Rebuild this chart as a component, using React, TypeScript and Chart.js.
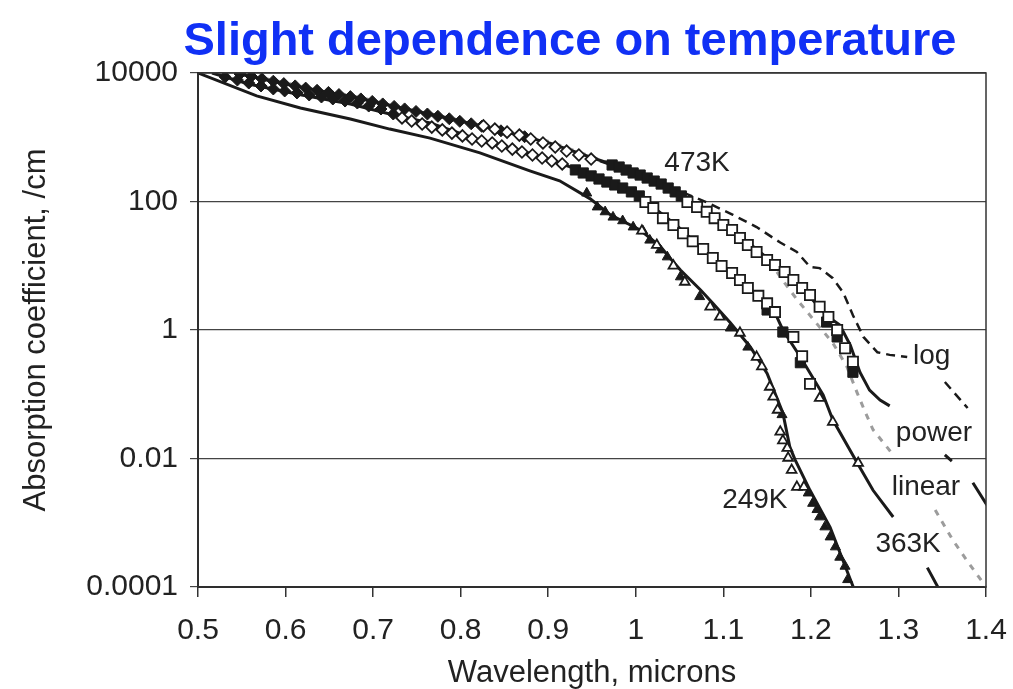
import React, { useEffect, useRef } from 'react';
import { Chart, registerables } from 'chart.js';

Chart.register(...registerables);

// ---------- text ----------
const chartTitle = 'Slight dependence on temperature';
const xAxisTitle = 'Wavelength, microns';
const yAxisTitle = 'Absorption coefficient, /cm';

// ---------- ticks ----------
const xTickValues = [0.5, 0.6, 0.7, 0.8, 0.9, 1.0, 1.1, 1.2, 1.3, 1.4];
const xTickLabels = ['0.5', '0.6', '0.7', '0.8', '0.9', '1', '1.1', '1.2', '1.3', '1.4'];
const yTickValues = [0.0001, 0.01, 1, 100, 10000];
const yTickLabels = ['0.0001', '0.01', '1', '100', '10000'];

type Pt = [number, number | null];

// ---------- 249K ----------
const line249K: Pt[] = [
  [0.5, 10000], [0.567, 4400], [0.617, 2850], [0.674, 1920], [0.719, 1340], [0.765, 970],
  [0.822, 570], [0.879, 300], [0.913, 210], [0.948, 110], [0.971, 62], [1.005, 36],
  [1.028, 20], [1.043, 11.4], [1.051, 8.6], [1.074, 4.2], [1.088, 2.6], [1.108, 1.3],
  [1.131, 0.54], [1.15, 0.21], [1.168, 0.051], [1.176, 0.015], [1.182, 0.0095],
  [1.199, 0.0032], [1.222, 0.00085], [1.249, 0.000095],
];
const tri249KFilled: Pt[] = [
  [0.944, 135], [0.956, 82], [0.965, 69], [0.974, 57], [0.985, 50], [0.997, 40], [1.008, 35],
  [1.016, 25], [1.028, 17.6], [1.036, 13.7], [1.051, 6.7], [1.073, 3.3], [1.108, 1.07],
  [1.128, 0.54], [1.167, 0.048], [1.197, 0.0029], [1.202, 0.002], [1.207, 0.0016],
  [1.21, 0.00123], [1.216, 0.00086], [1.222, 0.0006], [1.228, 0.00042], [1.233, 0.00029],
  [1.239, 0.00021], [1.242, 0.00013],
];
const tri249KOpen: Pt[] = [
  [1.007, 35], [1.024, 21], [1.043, 10], [1.056, 5.6], [1.085, 2.3], [1.096, 1.6], [1.119, 0.9],
  [1.138, 0.38], [1.144, 0.27], [1.153, 0.13], [1.157, 0.091], [1.162, 0.057], [1.165, 0.026],
  [1.168, 0.019], [1.173, 0.0145], [1.174, 0.0102], [1.178, 0.0066], [1.184, 0.0036],
  [1.192, 0.0036],
];

// ---------- 363K ----------
const line363K: Pt[] = [
  [0.516, 10000], [0.559, 6700], [0.617, 4600], [0.674, 3300], [0.719, 2300], [0.765, 1670],
  [0.822, 900], [0.879, 560], [0.925, 345], [0.971, 195], [1.005, 117], [1.047, 42],
  [1.077, 17.6], [1.11, 7.7], [1.14, 3.3], [1.159, 1.84], [1.168, 1.0], [1.188, 0.38],
  [1.214, 0.098], [1.225, 0.04], [1.253, 0.0085], [1.271, 0.0032], [1.294, 0.00123],
  [1.31, null], [1.333, 0.0002], [1.347, 0.000089],
];
const dia363KFilled: Pt[] = [
  [0.531, 8670], [0.545, 7780], [0.558, 6980], [0.572, 6280], [0.586, 5640], [0.599, 5250],
  [0.613, 4890], [0.627, 4550], [0.641, 4230], [0.654, 3940], [0.668, 3660], [0.682, 3410],
  [0.695, 3060], [0.709, 2750], [0.723, 2300],
];
const dia363KOpen: Pt[] = [
  [0.733, 2000], [0.744, 1790], [0.756, 1610], [0.767, 1440], [0.779, 1300], [0.79, 1160],
  [0.802, 1050], [0.813, 940], [0.824, 875], [0.836, 815], [0.847, 730], [0.859, 655],
  [0.87, 590], [0.882, 530], [0.893, 475], [0.904, 427], [0.916, 384],
];
const sq363KFilled: Pt[] = [
  [0.931, 310], [0.94, 278], [0.949, 250], [0.958, 224], [0.967, 201], [0.976, 181],
  [0.985, 162], [0.995, 141], [1.004, 122], [1.15, 2.05], [1.168, 0.93], [1.188, 0.31],
];
const sq363KOpen: Pt[] = [
  [1.011, 98], [1.02, 79], [1.031, 55], [1.043, 43], [1.054, 32], [1.065, 24], [1.077, 18.2],
  [1.088, 13.2], [1.098, 9.9], [1.11, 7.7], [1.119, 6.0], [1.128, 4.5], [1.14, 3.4],
  [1.15, 2.6], [1.159, 1.9], [1.18, 0.78], [1.19, 0.39], [1.199, 0.145],
];
const tri363KOpen: Pt[] = [[1.21, 0.087], [1.225, 0.037], [1.254, 0.0085]];

// ---------- 473K ----------
const line473K: Pt[] = [
  [0.542, 10000], [0.605, 6500], [0.682, 4100], [0.757, 2400], [0.834, 1390], [0.902, 810],
  [0.951, 475], [0.982, 345], [1.016, 232], [1.051, 122], [1.073, 79], [1.11, 36],
  [1.15, 13.2], [1.188, 4.7], [1.22, 1.6], [1.233, 1.2], [1.245, 0.58], [1.256, 0.22],
  [1.267, 0.116], [1.279, 0.081], [1.29, 0.066], [1.32, null], [1.353, 0.0114],
  [1.361, 0.0091], [1.37, null], [1.385, 0.0042], [1.401, 0.0019],
];
const dia473KFilled: Pt[] = [
  [0.548, 9650], [0.561, 8850], [0.573, 8130], [0.586, 7450], [0.598, 6840], [0.611, 6300],
  [0.623, 5820], [0.636, 5380], [0.649, 4990], [0.661, 4620], [0.674, 4290], [0.686, 3950],
  [0.699, 3610], [0.711, 3300], [0.724, 3020], [0.736, 2760], [0.749, 2520], [0.762, 2300],
  [0.774, 2120], [0.787, 1940], [0.799, 1770], [0.812, 1620], [0.824, 1480], [0.846, 1260],
  [0.873, 1020],
];
const dia473KOpen: Pt[] = [
  [0.826, 1500], [0.839, 1340], [0.853, 1200], [0.867, 1080], [0.88, 940], [0.894, 815],
  [0.908, 705], [0.921, 610], [0.935, 530], [0.949, 458],
];
const sq473KFilled: Pt[] = [
  [0.973, 370], [0.981, 344], [0.989, 309], [0.997, 278], [1.005, 258], [1.013, 232],
  [1.021, 208], [1.029, 187], [1.037, 162], [1.045, 141], [1.052, 122], [1.218, 1.33],
  [1.23, 0.78], [1.248, 0.22],
];
const sq473KOpen: Pt[] = [
  [1.059, 98], [1.07, 82], [1.081, 69], [1.09, 55], [1.1, 43], [1.11, 36], [1.119, 27],
  [1.128, 21], [1.138, 16.4], [1.15, 12.3], [1.159, 10.3], [1.17, 8.0], [1.18, 6.0],
  [1.19, 4.5], [1.199, 3.5], [1.21, 2.3], [1.22, 1.6], [1.23, 1.0], [1.239, 0.52], [1.248, 0.32],
];

// ---------- extrapolations ----------
const logFit: Pt[] = [
  [0.959, 425], [1.005, 257], [1.039, 168], [1.081, 97], [1.111, 62], [1.138, 40], [1.165, 23],
  [1.184, 16.4], [1.199, 9.6], [1.21, 9.2], [1.225, 6.4], [1.237, 3.8], [1.248, 1.7],
  [1.26, 0.78], [1.276, 0.45], [1.29, 0.41], [1.31, 0.38], [1.33, null], [1.353, 0.155],
  [1.379, 0.061],
];
const powerFit: Pt[] = [
  [0.546, 10000], [0.605, 6800], [0.682, 4250], [0.757, 2460], [0.834, 1440], [0.902, 850],
  [0.951, 490], [1.016, 240], [1.073, 85], [1.119, 30], [1.15, 13.2], [1.17, 5.4], [1.184, 3.0],
  [1.21, 1.11], [1.225, 0.63], [1.241, 0.27], [1.253, 0.104], [1.262, 0.053], [1.271, 0.028],
  [1.294, 0.0114], [1.32, null], [1.342, 0.00158], [1.362, 0.00054], [1.378, 0.00026],
  [1.401, 0.000096],
];

// ---------- in-plot labels (text, anchor in data coordinates) ----------
const labelTexts = ['473K', 'log', 'power', 'linear', '363K', '249K'];
const labelAnchors: [number, number][] = [
  [1.07, 299], [1.338, 0.296], [1.3406, 0.0187], [1.3314, 0.0027], [1.311, 0.00035], [1.136, 0.0017],
];

const FONT = "'Liberation Sans', Arial, Helvetica, sans-serif";
const INK = '#1a1a1a';

const toXY = (pts: Pt[]) => pts.map(([x, y]) => ({ x, y }));

const lineDs = (data: Pt[], extra: any = {}) => ({
  type: 'line',
  data: toXY(data),
  borderColor: INK,
  borderWidth: 3,
  pointRadius: 0,
  fill: false,
  spanGaps: false,
  tension: 0,
  order: 3,
  ...extra,
});

const markerDs = (data: Pt[], style: string, filled: boolean, radius: number, order = 1) => ({
  type: 'line',
  data: toXY(data),
  showLine: false,
  pointStyle: style,
  pointRadius: radius,
  pointBackgroundColor: filled ? INK : '#ffffff',
  pointBorderColor: INK,
  pointBorderWidth: filled ? 1 : 1.8,
  order,
});

const overlayPlugin = {
  id: 'overlay',
  afterDatasetsDraw(chart: any) {
    const { ctx, chartArea, scales } = chart;
    ctx.save();
    ctx.fillStyle = '#222';
    ctx.font = `28px ${FONT}`;
    ctx.textAlign = 'center';
    ctx.textBaseline = 'alphabetic';
    labelTexts.forEach((t, i) => {
      const [lx, ly] = labelAnchors[i];
      ctx.fillText(t, scales.x.getPixelForValue(lx), scales.y.getPixelForValue(ly));
    });
    ctx.strokeStyle = '#333';
    ctx.lineWidth = 1.5;
    ctx.strokeRect(chartArea.left, chartArea.top, chartArea.right - chartArea.left, chartArea.bottom - chartArea.top);
    ctx.restore();
  },
  afterDraw(chart: any) {
    const { ctx } = chart;
    ctx.save();
    ctx.fillStyle = '#1030f5';
    ctx.font = `bold 47px ${FONT}`;
    ctx.textAlign = 'center';
    ctx.textBaseline = 'alphabetic';
    ctx.fillText(chartTitle, 570, 55);
    ctx.restore();
  },
};

export default function App() {
  const ref = useRef<HTMLCanvasElement | null>(null);

  useEffect(() => {
    if (!ref.current) return;
    const chart = new Chart(ref.current, {
      type: 'line',
      data: {
        datasets: [
          markerDs(sq473KOpen, 'rect', false, 7.2, 1),
          markerDs(sq363KOpen, 'rect', false, 7.2, 1),
          markerDs(dia473KOpen, 'rectRot', false, 5.8, 1),
          markerDs(dia363KOpen, 'rectRot', false, 5.8, 1),
          markerDs(tri249KOpen, 'triangle', false, 5.6, 1),
          markerDs(tri363KOpen, 'triangle', false, 5.6, 1),
          markerDs(sq473KFilled, 'rect', true, 7.2, 2),
          markerDs(sq363KFilled, 'rect', true, 7.2, 2),
          markerDs(dia473KFilled, 'rectRot', true, 6, 2),
          markerDs(dia363KFilled, 'rectRot', true, 6, 2),
          markerDs(tri249KFilled, 'triangle', true, 5.8, 2),
          lineDs(line249K),
          lineDs(line363K),
          lineDs(line473K),
          lineDs(logFit, { borderWidth: 2.5, borderDash: [9, 6], order: 4 }),
          lineDs(powerFit, { borderColor: '#9c9c9c', borderWidth: 3, borderDash: [6, 7], order: 5 }),
        ] as any,
      },
      options: {
        animation: false,
        responsive: false,
        maintainAspectRatio: false,
        layout: { padding: { left: 8, right: 27, top: 73, bottom: 0 } },
        plugins: {
          legend: { display: false },
          tooltip: { enabled: false },
          title: { display: false },
        },
        scales: {
          x: {
            type: 'linear',
            min: 0.5,
            max: 1.4,
            afterBuildTicks: (s: any) => {
              s.ticks = xTickValues.map((v) => ({ value: v }));
            },
            afterFit: (s: any) => {
              s.height = 102;
              s.paddingLeft = 0;
              s.paddingRight = 0;
            },
            ticks: {
              autoSkip: false,
              maxRotation: 0,
              minRotation: 0,
              padding: 16,
              color: '#222',
              font: { family: FONT, size: 30 },
              callback: (_v: any, i: number) => xTickLabels[i],
            },
            grid: { drawOnChartArea: false, drawTicks: true, tickLength: 10, color: '#333', lineWidth: 1.5 },
            border: { display: true, color: '#222', width: 2 },
            title: {
              display: true,
              text: xAxisTitle,
              color: '#222',
              font: { family: FONT, size: 31 },
              padding: { top: 0, bottom: -3 },
            },
          },
          y: {
            type: 'logarithmic',
            min: 0.0001,
            max: 10000,
            afterBuildTicks: (s: any) => {
              s.ticks = yTickValues.map((v) => ({ value: v }));
            },
            afterFit: (s: any) => {
              s.width = 190;
              s.paddingTop = 0;
              s.paddingBottom = 0;
            },
            ticks: {
              autoSkip: false,
              padding: 12,
              color: '#222',
              font: { family: FONT, size: 30 },
              callback: (_v: any, i: number) => yTickLabels[i],
            },
            grid: { drawOnChartArea: true, drawTicks: true, tickLength: 8, color: '#444', lineWidth: 1.2 },
            border: { display: true, color: '#222', width: 2 },
            title: {
              display: true,
              text: yAxisTitle,
              color: '#222',
              font: { family: FONT, size: 31 },
              padding: { top: 10, bottom: 0 },
            },
          },
        },
      } as any,
      plugins: [overlayPlugin],
    });
    return () => chart.destroy();
  }, []);

  return (
    <div style={{ position: 'fixed', left: 0, top: 0, width: 1013, height: 689, background: '#fff' }}>
      <canvas ref={ref} width={1013} height={689} style={{ display: 'block', width: 1013, height: 689 }} />
    </div>
  );
}
